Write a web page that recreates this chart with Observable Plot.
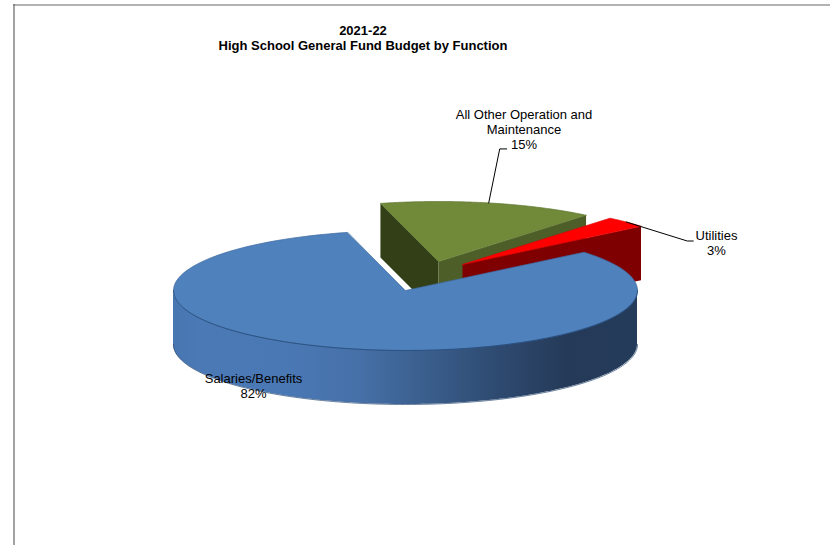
<!DOCTYPE html>
<html>
<head>
<meta charset="utf-8">
<style>
  html, body { margin: 0; padding: 0; background: #fff; overflow: hidden; }
  svg { display: block; }
</style>
<script src="https://cdn.jsdelivr.net/npm/d3@7"></script>
<script src="https://cdn.jsdelivr.net/npm/@observablehq/plot@0.6"></script>
</head>
<body>
<div id="chart"></div>
<script>
// Budget shares by function, in clockwise order around the pie
const categories = ["Salaries/Benefits", "All Other Operation and Maintenance", "Utilities"];
const shares = [82, 15, 3];
const shareLabels = ["82%", "15%", "3%"];

// Face colours per slice
const topColors = ["#4f81bd", "#708a3a", "#ff0000"];
const edgeColors = ["#3d6a9f", "#5f7630", "#e00000"];
const cutColors = ["#3a5c88", "#4e5e29", "#7f0000"];
const backCutColors = ["#3a5c88", "#333f17", "#7f0000"];

// Pie geometry
const rx = 232, ry = 60, depth = 54;
const startAngle = 50.3;
const centers = [[405, 290], [438, 261], [462, 264]];

// Turn shares into clockwise angle ranges, measured from twelve o'clock
const total = d3.sum(shares);
let running = startAngle;
const slices = shares.map((share, i) => {
  const a0 = running;
  running += (share / total) * 360;
  return {i, a0, a1: running, cx: centers[i][0], cy: centers[i][1]};
});

const rim = (s, deg, drop = 0) => ({
  x: s.cx + rx * Math.sin(deg * Math.PI / 180),
  y: s.cy - ry * Math.cos(deg * Math.PI / 180) + drop
});
const arc = (s, a0, a1, drop = 0) =>
  d3.range(0, 121).map((k) => rim(s, a0 + (a1 - a0) * k / 120, drop));
const face = (points, fill, stroke = "none", strokeWidth = 0.7) =>
  Plot.line(points, {x: "x", y: "y", curve: "linear-closed", fill, stroke, strokeWidth});

// Top surface of a slice, plus its two cut walls
const topFace = (s) =>
  face([{x: s.cx, y: s.cy}, ...arc(s, s.a0, s.a1)], topColors[s.i], edgeColors[s.i]);
const cutWall = (s, deg, fill) => {
  const apex = {x: s.cx, y: s.cy};
  const edge = rim(s, deg);
  return face([apex, edge, {x: edge.x, y: edge.y + depth}, {x: apex.x, y: apex.y + depth}], fill);
};

const [blue, green, red] = slices;
const frontTop = arc(blue, 90, 270);
const wall = frontTop.map((p) => ({x: p.x, y1: p.y, y2: p.y + depth}));

// Leader lines run from the outer rim at each slice's mid angle
const greenAnchor = rim(green, (green.a0 + green.a1) / 2);
const redAnchor = rim(red, (red.a0 + red.a1) / 2);
const greenLeader = [greenAnchor, {x: greenAnchor.x + 11, y: greenAnchor.y - 54}, {x: greenAnchor.x + 18, y: greenAnchor.y - 54}];
const redLeader = [redAnchor, {x: redAnchor.x + 61, y: redAnchor.y + 19}, {x: redAnchor.x + 67, y: redAnchor.y + 19}];

const titleLines = [
  {x: 362.5, y: 30, text: "2021-22"},
  {x: 362.5, y: 45, text: "High School General Fund Budget by Function"}
];
const labels = [
  {x: 523.5, y: 114, text: "All Other Operation and"},
  {x: 523.5, y: 129, text: "Maintenance"},
  {x: 523.5, y: 144, text: shareLabels[1]},
  {x: 716, y: 235, text: categories[2]},
  {x: 716, y: 250, text: shareLabels[2]},
  {x: 253, y: 378, text: categories[0]},
  {x: 253, y: 393, text: shareLabels[0]}
];

const wallGradient = () => {
  const defs = d3.create("svg:defs");
  const grad = defs.append("linearGradient").attr("id", "blue-wall");
  [[0, "#4876b0"], [0.06, "#4b79b6"], [0.25, "#4a78b4"], [0.4, "#4670a8"], [0.5, "#3e6495"],
   [0.7, "#2e4a70"], [0.85, "#253a58"], [1, "#243b5a"]].forEach(([o, c]) =>
    grad.append("stop").attr("offset", o).attr("stop-color", c));
  return defs.node();
};

const chart = Plot.plot({
  width: 830,
  height: 545,
  margin: 0,
  x: {type: "identity", axis: null},
  y: {type: "identity", axis: null},
  style: {background: "#fff", fontFamily: "'Liberation Sans', Arial, sans-serif"},
  marks: [
    wallGradient,
    // Page frame
    Plot.ruleY([4.5], {x1: 13, x2: 830, stroke: "#666", strokeWidth: 1.2}),
    Plot.ruleX([13.5], {y1: 4, y2: 545, stroke: "#666", strokeWidth: 1.2}),

    // Exploded slices, back to front
    cutWall(green, green.a0, backCutColors[1]),
    cutWall(green, green.a1, cutColors[1]),
    topFace(green),
    cutWall(red, red.a1, cutColors[2]),
    topFace(red),

    // Large slice with its curved outer wall
    Plot.areaY(wall, {x: "x", y1: "y1", y2: "y2", fill: "url(#blue-wall)"}),
    Plot.line(wall, {x: "x", y: "y2", stroke: "#2b4a73", strokeWidth: 0.7}),
    topFace(blue),
    Plot.line(frontTop, {x: "x", y: "y", stroke: "#264a78", strokeWidth: 0.8}),

    // Leaders
    Plot.line(greenLeader, {x: "x", y: "y", stroke: "#000", strokeWidth: 1}),
    Plot.line(redLeader, {x: "x", y: "y", stroke: "#000", strokeWidth: 1}),

    // Titles and slice labels
    Plot.text(titleLines, {x: "x", y: "y", text: "text", fontSize: 13, fontWeight: "bold", fill: "#000"}),
    Plot.text(labels, {x: "x", y: "y", text: "text", fontSize: 13, fill: "#000"})
  ]
});
document.getElementById("chart").append(chart);
</script>
</body>
</html>
